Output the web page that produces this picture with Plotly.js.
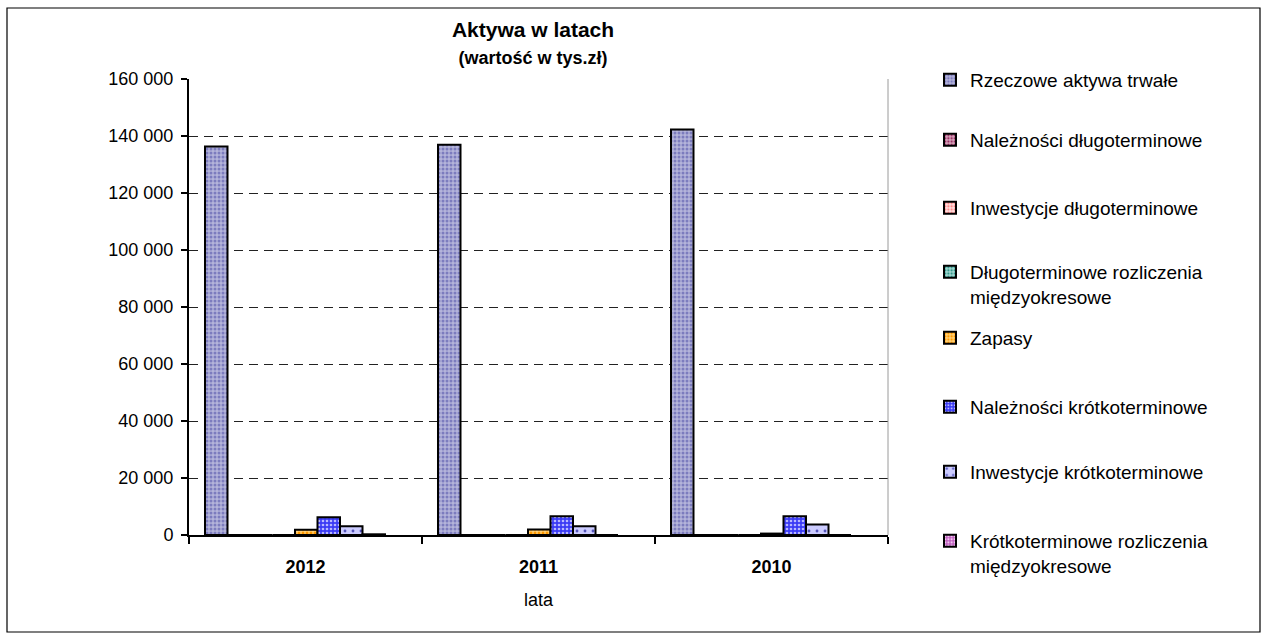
<!DOCTYPE html>
<html>
<head>
<meta charset="utf-8">
<script src="https://cdn.plot.ly/plotly-3.0.1.min.js"></script>
<style>html,body{margin:0;padding:0;background:#fff;}#chart{width:1268px;height:639px;}</style>
</head>
<body>
<div id="chart"></div>
<script>
// ---- data (thousand PLN) ----
const years = ['2012', '2011', '2010'];
const seriesNames = [
  'Rzeczowe aktywa trwałe',
  'Należności długoterminowe',
  'Inwestycje długoterminowe',
  'Długoterminowe rozliczenia<br>międzyokresowe',
  'Zapasy',
  'Należności krótkoterminowe',
  'Inwestycje krótkoterminowe',
  'Krótkoterminowe rozliczenia<br>międzyokresowe'
];
const rzeczoweAktywaTrwale = [136300, 136900, 142300];
const naleznosciDlugoterminowe = [0, 0, 0];
const inwestycjeDlugoterminowe = [0, 0, 0];
const dlugoterminoweRozliczenia = [0, 0, 0];
const zapasy = [1800, 1900, 500];
const naleznosciKrotkoterminowe = [6200, 6600, 6600];
const inwestycjeKrotkoterminowe = [3100, 3100, 3700];
const krotkoterminoweRozliczenia = [250, 0, 0];
const yTicks = [0, 20000, 40000, 60000, 80000, 100000, 120000, 140000, 160000];

const seriesValues = [rzeczoweAktywaTrwale, naleznosciDlugoterminowe, inwestycjeDlugoterminowe,
  dlugoterminoweRozliczenia, zapasy, naleznosciKrotkoterminowe, inwestycjeKrotkoterminowe,
  krotkoterminoweRozliczenia];

// ---- styles ----
const patterns = [
  {bg: '#B4B4DA', fg: '#7C7CBE', size: 4, sol: 0.45},
  {bg: '#D8A6BC', fg: '#993366', size: 4, sol: 0.45},
  {bg: '#FFE2E2', fg: '#FF8A8A', size: 4, sol: 0.45},
  {bg: '#A6D8D2', fg: '#33998C', size: 4, sol: 0.45},
  {bg: '#FFD27A', fg: '#FF9900', size: 4, sol: 0.45},
  {bg: '#3A3AF5', fg: '#B8B8FF', size: 4, sol: 0.35},
  {bg: '#CCCCFF', fg: '#5555BB', size: 8, sol: 0.1},
  {bg: '#C060C0', fg: '#F0C8F0', size: 4, sol: 0.4}
];
const legendY = [80, 140, 208, 272, 338, 407, 472, 541]; // first-line centre, px
const M = {l: 189, r: 380, t: 79, b: 104};
const W = 1268, H = 639;
const PW = W - M.l - M.r, PH = H - M.t - M.b;
const barW = 22.5 / (PW / 3);
const startOff = -100.5 / (PW / 3);

const font = 'Liberation Sans, Arial, sans-serif';
const traces = [];
const layout = {
  width: W, height: H,
  margin: M,
  paper_bgcolor: '#ffffff',
  plot_bgcolor: '#ffffff',
  separators: ', ',
  barmode: 'overlay',
  font: {family: font, size: 18, color: '#000'},
  title: {
    text: '<b>Aktywa w latach</b><br><span style="font-size:18px"><b>(wartość w tys.zł)</b></span>',
    font: {family: font, size: 21, color: '#000'},
    x: 533 / W, xref: 'container', xanchor: 'center',
    y: 1 - 37 / H, yref: 'container', yanchor: 'middle'
  },
  xaxis: {
    type: 'category',
    tickson: 'boundaries',
    ticks: 'outside', ticklen: 7, tickwidth: 2, tickcolor: '#000',
    showline: true, linecolor: '#000', linewidth: 2,
    showgrid: false, zeroline: false,
    tickfont: {family: font, size: 18, weight: 'bold', color: '#000'},
    ticklabelstandoff: 14,
    title: {text: 'lata', font: {family: font, size: 18, color: '#000'}, standoff: 18},
    fixedrange: true
  },
  yaxis: {
    range: [0, 160000],
    tickvals: yTicks,
    tickformat: ',d',
    ticks: 'outside', ticklen: 6, tickwidth: 2, tickcolor: '#000',
    showline: true, linecolor: '#000', linewidth: 2,
    showgrid: true, gridcolor: '#222', gridwidth: 1, griddash: '9px,6px',
    zeroline: false,
    tickfont: {family: font, size: 18, color: '#000'},
    ticklabelstandoff: 4,
    fixedrange: true
  },
  shapes: [
    {type: 'rect', xref: 'paper', yref: 'paper',
     x0: (7 - M.l) / PW, x1: (1260 - M.l) / PW,
     y0: (H - M.b - 632) / PH, y1: (H - M.b - 8) / PH,
     line: {color: '#000', width: 1.2}, fillcolor: 'rgba(0,0,0,0)', layer: 'below'},
    {type: 'line', xref: 'paper', yref: 'paper', x0: 1, x1: 1, y0: 0, y1: 1,
     line: {color: '#9a9a9a', width: 1}}
  ],
  showlegend: true
};

seriesNames.forEach((name, i) => {
  const p = patterns[i];
  const lg = i === 0 ? 'legend' : 'legend' + (i + 1);
  traces.push({
    type: 'bar',
    name: name,
    x: years,
    y: seriesValues[i],
    width: barW,
    offset: startOff + i * barW,
    legend: lg,
    marker: {
      color: p.bg,
      line: {color: '#000', width: 2},
      pattern: {shape: '.', bgcolor: p.bg, fgcolor: p.fg, size: p.size, solidity: p.sol, fillmode: 'replace'}
    },
    hoverinfo: 'name+y'
  });
  layout[lg] = {
    x: (930 - M.l) / PW, xanchor: 'left',
    y: (H - M.b - (legendY[i] - 19)) / PH, yanchor: 'top',
    valign: 'top',
    bgcolor: 'rgba(0,0,0,0)',
    font: {family: font, size: 19, color: '#000'},
    itemclick: false, itemdoubleclick: false
  };
});

Plotly.newPlot('chart', traces, layout, {displayModeBar: false, staticPlot: true});
</script>
</body>
</html>
